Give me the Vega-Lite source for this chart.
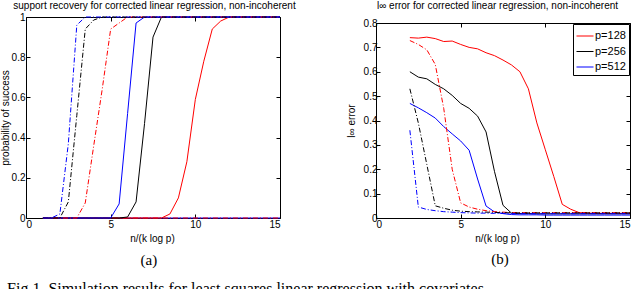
{
  "$schema": "https://vega.github.io/schema/vega-lite/v6.json",
  "padding": {"left": 0, "top": 0, "right": 0, "bottom": 0},
  "background": "white",
  "spacing": 50,
  "config": {
    "view": {"stroke": "#000", "strokeWidth": 1},
    "axis": {
      "grid": false, "domain": false, "tickColor": "#000", "tickSize": -4, "tickWidth": 1,
      "domainColor": "#000", "domainWidth": 1,
      "labelFont": "Liberation Sans", "labelFontSize": 10, "labelColor": "#000",
      "titleFont": "Liberation Sans", "titleFontSize": 10, "titleFontWeight": "normal", "titleColor": "#000"
    },
    "legend": {
      "padding": 3, "strokeColor": "#000", "fillColor": "#fff", "symbolType": "stroke",
      "symbolSize": 289, "symbolStrokeWidth": 1, "labelFont": "Liberation Sans", "labelFontSize": 11,
      "labelColor": "#000", "labelOffset": 1, "rowPadding": 1.5, "cornerRadius": 0
    }
  },
  "title": {
    "text": "Fig 1. Simulation results for least squares linear regression with covariates",
    "orient": "bottom", "anchor": "start", "font": "Liberation Serif", "fontSize": 16,
    "fontWeight": "normal", "color": "#000", "offset": 13, "dx": 7
  },
  "resolve": {"scale": {"color": "independent"}, "legend": {"color": "independent"}},
  "datasets": {
    "aZero": [
      {"x": 1, "v": 0, "p": "p=512", "s": "solid"},
      {"x": 15, "v": 0, "p": "p=512", "s": "solid"},
      {"x": 1, "v": 0, "p": "p=128", "s": "dashdot"},
      {"x": 15, "v": 0, "p": "p=128", "s": "dashdot"}
    ],
    "aSolid": [
      {"x": 1, "p=128": 0, "p=256": 0, "p=512": 0},
      {"x": 1.5, "p=128": 0, "p=256": 0, "p=512": 0},
      {"x": 2, "p=128": 0, "p=256": 0, "p=512": 0},
      {"x": 2.5, "p=128": 0, "p=256": 0, "p=512": 0},
      {"x": 3, "p=128": 0, "p=256": 0, "p=512": 0},
      {"x": 3.5, "p=128": 0, "p=256": 0, "p=512": 0},
      {"x": 4, "p=128": 0, "p=256": 0, "p=512": 0},
      {"x": 4.5, "p=128": 0, "p=256": 0, "p=512": 0},
      {"x": 5, "p=128": 0, "p=256": 0, "p=512": 0},
      {"x": 5.5, "p=128": 0, "p=256": 0, "p=512": 0.07},
      {"x": 6, "p=128": 0, "p=256": 0.005, "p=512": 0.52},
      {"x": 6.5, "p=128": 0, "p=256": 0.08, "p=512": 0.97},
      {"x": 7, "p=128": 0, "p=256": 0.47, "p=512": 1},
      {"x": 7.5, "p=128": 0, "p=256": 0.9, "p=512": 1},
      {"x": 8, "p=128": 0, "p=256": 1, "p=512": 1},
      {"x": 8.5, "p=128": 0.02, "p=256": 1, "p=512": 1},
      {"x": 9, "p=128": 0.1, "p=256": 1, "p=512": 1},
      {"x": 9.5, "p=128": 0.28, "p=256": 1, "p=512": 1},
      {"x": 10, "p=128": 0.59, "p=256": 1, "p=512": 1},
      {"x": 10.5, "p=128": 0.78, "p=256": 1, "p=512": 1},
      {"x": 11, "p=128": 0.94, "p=256": 1, "p=512": 1},
      {"x": 11.5, "p=128": 0.98, "p=256": 1, "p=512": 1},
      {"x": 12, "p=128": 1, "p=256": 1, "p=512": 1},
      {"x": 12.5, "p=128": 1, "p=256": 1, "p=512": 1},
      {"x": 13, "p=128": 1, "p=256": 1, "p=512": 1},
      {"x": 13.5, "p=128": 1, "p=256": 1, "p=512": 1},
      {"x": 14, "p=128": 1, "p=256": 1, "p=512": 1},
      {"x": 14.5, "p=128": 1, "p=256": 1, "p=512": 1},
      {"x": 15, "p=128": 1, "p=256": 1, "p=512": 1}
    ],
    "aDash": [
      {"x": 1, "p=128": 0, "p=256": 0, "p=512": 0},
      {"x": 1.5, "p=128": 0, "p=256": 0, "p=512": 0},
      {"x": 2, "p=128": 0, "p=256": 0, "p=512": 0.02},
      {"x": 2.5, "p=128": 0, "p=256": 0.08, "p=512": 0.37},
      {"x": 3, "p=128": 0, "p=256": 0.51, "p=512": 0.96},
      {"x": 3.5, "p=128": 0.075, "p=256": 0.94, "p=512": 1},
      {"x": 4, "p=128": 0.36, "p=256": 0.985, "p=512": 1},
      {"x": 4.5, "p=128": 0.64, "p=256": 1, "p=512": 1},
      {"x": 5, "p=128": 0.94, "p=256": 1, "p=512": 1},
      {"x": 5.5, "p=128": 0.97, "p=256": 1, "p=512": 1},
      {"x": 6, "p=128": 1, "p=256": 1, "p=512": 1},
      {"x": 6.5, "p=128": 1, "p=256": 1, "p=512": 1},
      {"x": 7, "p=128": 1, "p=256": 1, "p=512": 1},
      {"x": 7.5, "p=128": 1, "p=256": 1, "p=512": 1},
      {"x": 8, "p=128": 1, "p=256": 1, "p=512": 1},
      {"x": 8.5, "p=128": 1, "p=256": 1, "p=512": 1},
      {"x": 9, "p=128": 1, "p=256": 1, "p=512": 1},
      {"x": 9.5, "p=128": 1, "p=256": 1, "p=512": 1},
      {"x": 10, "p=128": 1, "p=256": 1, "p=512": 1},
      {"x": 10.5, "p=128": 1, "p=256": 1, "p=512": 1},
      {"x": 11, "p=128": 1, "p=256": 1, "p=512": 1},
      {"x": 11.5, "p=128": 1, "p=256": 1, "p=512": 1},
      {"x": 12, "p=128": 1, "p=256": 1, "p=512": 1},
      {"x": 12.5, "p=128": 1, "p=256": 1, "p=512": 1},
      {"x": 13, "p=128": 1, "p=256": 1, "p=512": 1},
      {"x": 13.5, "p=128": 1, "p=256": 1, "p=512": 1},
      {"x": 14, "p=128": 1, "p=256": 1, "p=512": 1},
      {"x": 14.5, "p=128": 1, "p=256": 1, "p=512": 1},
      {"x": 15, "p=128": 1, "p=256": 1, "p=512": 1}
    ],
    "bSolid": [
      {"x": 2, "p=128": 0.74, "p=256": 0.6, "p=512": 0.47},
      {"x": 2.5, "p=128": 0.738, "p=256": 0.578, "p=512": 0.452},
      {"x": 3, "p=128": 0.742, "p=256": 0.571, "p=512": 0.432},
      {"x": 3.5, "p=128": 0.736, "p=256": 0.548, "p=512": 0.41},
      {"x": 4, "p=128": 0.724, "p=256": 0.53, "p=512": 0.375},
      {"x": 4.5, "p=128": 0.726, "p=256": 0.503, "p=512": 0.345},
      {"x": 5, "p=128": 0.712, "p=256": 0.47, "p=512": 0.316},
      {"x": 5.5, "p=128": 0.7, "p=256": 0.45, "p=512": 0.278},
      {"x": 6, "p=128": 0.694, "p=256": 0.418, "p=512": 0.16},
      {"x": 6.5, "p=128": 0.678, "p=256": 0.353, "p=512": 0.049},
      {"x": 7, "p=128": 0.666, "p=256": 0.19, "p=512": 0.025},
      {"x": 7.5, "p=128": 0.648, "p=256": 0.052, "p=512": 0.018},
      {"x": 8, "p=128": 0.628, "p=256": 0.02, "p=512": 0.014},
      {"x": 8.5, "p=128": 0.6, "p=256": 0.018, "p=512": 0.013},
      {"x": 9, "p=128": 0.53, "p=256": 0.018, "p=512": 0.013},
      {"x": 9.5, "p=128": 0.39, "p=256": 0.017, "p=512": 0.013},
      {"x": 10, "p=128": 0.28, "p=256": 0.017, "p=512": 0.012},
      {"x": 10.5, "p=128": 0.17, "p=256": 0.017, "p=512": 0.012},
      {"x": 11, "p=128": 0.056, "p=256": 0.017, "p=512": 0.012},
      {"x": 11.5, "p=128": 0.036, "p=256": 0.017, "p=512": 0.012},
      {"x": 12, "p=128": 0.022, "p=256": 0.017, "p=512": 0.012},
      {"x": 12.5, "p=128": 0.02, "p=256": 0.017, "p=512": 0.012},
      {"x": 13, "p=128": 0.019, "p=256": 0.017, "p=512": 0.012},
      {"x": 13.5, "p=128": 0.019, "p=256": 0.017, "p=512": 0.012},
      {"x": 14, "p=128": 0.019, "p=256": 0.017, "p=512": 0.012},
      {"x": 14.5, "p=128": 0.019, "p=256": 0.017, "p=512": 0.012},
      {"x": 15, "p=128": 0.019, "p=256": 0.017, "p=512": 0.012}
    ],
    "bDash": [
      {"x": 2, "p=128": 0.728, "p=256": 0.53, "p=512": 0.36},
      {"x": 2.5, "p=128": 0.712, "p=256": 0.39, "p=512": 0.045},
      {"x": 3, "p=128": 0.69, "p=256": 0.22, "p=512": 0.035},
      {"x": 3.5, "p=128": 0.63, "p=256": 0.05, "p=512": 0.03},
      {"x": 4, "p=128": 0.45, "p=256": 0.04, "p=512": 0.026},
      {"x": 4.5, "p=128": 0.2, "p=256": 0.032, "p=512": 0.024},
      {"x": 5, "p=128": 0.062, "p=256": 0.028, "p=512": 0.022},
      {"x": 5.5, "p=128": 0.045, "p=256": 0.026, "p=512": 0.021},
      {"x": 6, "p=128": 0.036, "p=256": 0.025, "p=512": 0.02},
      {"x": 6.5, "p=128": 0.03, "p=256": 0.024, "p=512": 0.02},
      {"x": 7, "p=128": 0.026, "p=256": 0.023, "p=512": 0.019},
      {"x": 7.5, "p=128": 0.024, "p=256": 0.022, "p=512": 0.019},
      {"x": 8, "p=128": 0.022, "p=256": 0.021, "p=512": 0.018},
      {"x": 8.5, "p=128": 0.022, "p=256": 0.021, "p=512": 0.018},
      {"x": 9, "p=128": 0.022, "p=256": 0.021, "p=512": 0.018},
      {"x": 9.5, "p=128": 0.022, "p=256": 0.021, "p=512": 0.018},
      {"x": 10, "p=128": 0.022, "p=256": 0.021, "p=512": 0.018},
      {"x": 10.5, "p=128": 0.022, "p=256": 0.021, "p=512": 0.018},
      {"x": 11, "p=128": 0.022, "p=256": 0.021, "p=512": 0.018},
      {"x": 11.5, "p=128": 0.022, "p=256": 0.021, "p=512": 0.018},
      {"x": 12, "p=128": 0.022, "p=256": 0.021, "p=512": 0.018},
      {"x": 12.5, "p=128": 0.022, "p=256": 0.021, "p=512": 0.018},
      {"x": 13, "p=128": 0.022, "p=256": 0.021, "p=512": 0.018},
      {"x": 13.5, "p=128": 0.022, "p=256": 0.021, "p=512": 0.018},
      {"x": 14, "p=128": 0.022, "p=256": 0.021, "p=512": 0.018},
      {"x": 14.5, "p=128": 0.022, "p=256": 0.021, "p=512": 0.018},
      {"x": 15, "p=128": 0.022, "p=256": 0.021, "p=512": 0.018}
    ]
  },
  "hconcat": [
    {
      "title": {"text": "(a)", "orient": "bottom", "anchor": "middle", "frame": "bounds", "font": "Liberation Serif", "fontSize": 15, "fontWeight": "normal", "color": "#000", "offset": 9, "dx": 1},
      "resolve": {"scale": {"color": "independent"}, "legend": {"color": "independent"}},
      "vconcat": [
        {
          "width": 254,
          "height": 201,
          "layer": [
            {
              "data": {"name": "aZero"},
              "mark": {"type": "line", "strokeWidth": 1},
              "encoding": {
                "x": {"field": "x", "type": "quantitative", "scale": {"domain": [0, 15], "nice": false}, "axis": null},
                "y": {"field": "v", "type": "quantitative", "scale": {"domain": [0, 1], "nice": false}, "axis": null},
                "color": {"field": "p", "type": "nominal", "scale": {"domain": ["p=128", "p=256", "p=512"], "range": ["#ff0000", "#000000", "#0000ff"]}, "legend": null},
                "strokeDash": {"field": "s", "type": "nominal", "scale": {"domain": ["solid", "dashdot"], "range": [[1, 0], [5, 2, 1, 2]]}, "legend": null}
              }
            },
            {
              "data": {"name": "aSolid"},
              "transform": [{"fold": ["p=128", "p=256", "p=512"], "as": ["p", "v"]}],
              "mark": {"type": "line", "strokeWidth": 1},
              "encoding": {
                "x": {"field": "x", "type": "quantitative", "scale": {"domain": [0, 15], "nice": false},
                      "axis": {"orient": "bottom", "values": [0, 5, 10, 15], "title": "n/(k log p)", "labelPadding": 5.5, "titlePadding": 3.5, "titleX": 126}},
                "y": {"field": "v", "type": "quantitative", "scale": {"domain": [0, 1], "nice": false},
                      "axis": {"orient": "left", "values": [0, 0.2, 0.4, 0.6, 0.8, 1], "format": "~g", "title": "probability of success", "labelPadding": 5, "titlePadding": 0.5}},
                "color": {"field": "p", "type": "nominal", "scale": {"domain": ["p=128", "p=256", "p=512"], "range": ["#ff0000", "#000000", "#0000ff"]},
                          "legend": {"title": null, "orient": "bottom-right", "offset": 3}}
              }
            },
            {
              "data": {"name": "aDash"},
              "transform": [{"fold": ["p=128", "p=256", "p=512"], "as": ["p", "v"]}],
              "mark": {"type": "line", "strokeWidth": 1, "strokeDash": [5, 2, 1, 2]},
              "encoding": {
                "x": {"field": "x", "type": "quantitative", "scale": {"domain": [0, 15], "nice": false},
                      "axis": {"orient": "top", "values": [0, 5, 10, 15], "labels": false, "title": "support recovery for corrected linear regression, non-incoherent", "titlePadding": 6, "titleX": 128}},
                "y": {"field": "v", "type": "quantitative", "scale": {"domain": [0, 1], "nice": false},
                      "axis": {"orient": "right", "values": [0, 0.2, 0.4, 0.6, 0.8, 1], "labels": false, "title": null}},
                "color": {"field": "p", "type": "nominal", "scale": {"domain": ["p=128", "p=256", "p=512"], "range": ["#ff0000", "#000000", "#0000ff"]}, "legend": null}
              }
            }
          ]
        }
      ]
    },
    {
      "title": {"text": "(b)", "orient": "bottom", "anchor": "middle", "frame": "bounds", "font": "Liberation Serif", "fontSize": 15, "fontWeight": "normal", "color": "#000", "offset": 9, "dx": 11},
      "resolve": {"scale": {"color": "independent"}, "legend": {"color": "independent"}},
      "vconcat": [
        {
          "width": 254,
          "height": 201,
          "view": {"stroke": null},
          "layer": [
            {
              "data": {"name": "bSolid"},
              "transform": [{"fold": ["p=128", "p=256", "p=512"], "as": ["p", "v"]}],
              "mark": {"type": "line", "strokeWidth": 1},
              "encoding": {
                "x": {"field": "x", "type": "quantitative", "scale": {"domain": [0, 15], "nice": false},
                      "axis": {"orient": "bottom", "values": [0, 5, 10, 15], "domain": true, "title": "n/(k log p)", "labelPadding": 5.5, "titlePadding": 3.5, "titleX": 121}},
                "y": {"field": "v", "type": "quantitative", "scale": {"domain": [0, 0.8], "nice": false, "range": [201, 6]},
                      "axis": {"orient": "left", "values": [0, 0.1, 0.2, 0.3, 0.4, 0.5, 0.6, 0.7, 0.8], "domain": true, "format": "~g", "title": "l∞ error", "labelPadding": 3, "titlePadding": 7}},
                "color": {"field": "p", "type": "nominal", "scale": {"domain": ["p=128", "p=256", "p=512"], "range": ["#ff0000", "#000000", "#0000ff"]},
                          "legend": {"title": null, "orient": "none", "legendX": 197, "legendY": 7}}
              }
            },
            {
              "data": {"name": "bDash"},
              "transform": [{"fold": ["p=128", "p=256", "p=512"], "as": ["p", "v"]}],
              "mark": {"type": "line", "strokeWidth": 1, "strokeDash": [5, 2, 1, 2]},
              "encoding": {
                "x": {"field": "x", "type": "quantitative", "scale": {"domain": [0, 15], "nice": false},
                      "axis": {"orient": "top", "offset": -6, "values": [0, 5, 10, 15], "domain": true, "labels": false, "title": "l∞ error for corrected linear regression, non-incoherent", "titlePadding": 12, "titleX": 121}},
                "y": {"field": "v", "type": "quantitative", "scale": {"domain": [0, 0.8], "nice": false, "range": [201, 6]},
                      "axis": {"orient": "right", "values": [0, 0.1, 0.2, 0.3, 0.4, 0.5, 0.6, 0.7, 0.8], "domain": true, "labels": false, "title": null}},
                "color": {"field": "p", "type": "nominal", "scale": {"domain": ["p=128", "p=256", "p=512"], "range": ["#ff0000", "#000000", "#0000ff"]}, "legend": null}
              }
            }
          ]
        }
      ]
    }
  ]
}
